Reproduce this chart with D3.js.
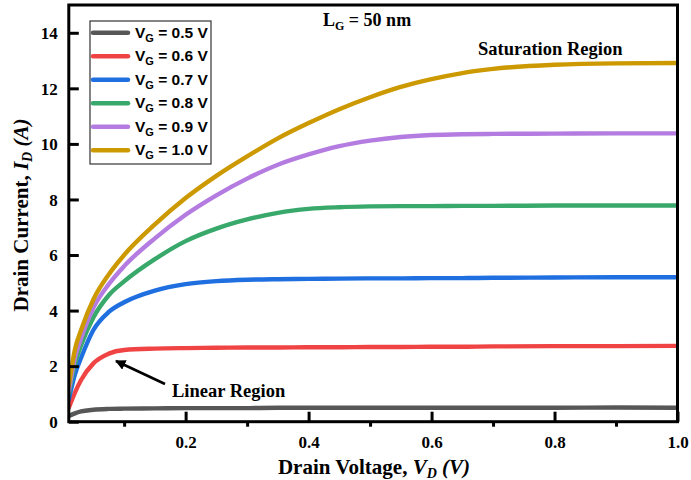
<!DOCTYPE html>
<html>
<head>
<meta charset="utf-8">
<script src="https://cdn.jsdelivr.net/npm/d3@7"></script>
<style>
  html, body { margin: 0; padding: 0; background: #fff; }
  svg { display: block; }
</style>
</head>
<body>
<svg id="chart" width="691" height="480"></svg>
<script>
// Drain voltage sweep (V)
const drainVoltage = [0.01, 0.02, 0.03, 0.05, 0.075, 0.1, 0.15, 0.2, 0.25, 0.3, 0.35, 0.4, 0.45, 0.5, 0.55, 0.6, 0.65, 0.7, 0.8, 0.9, 1.0];

// Drain current (A) for each gate voltage
const idVg05 = [0.2, 0.3, 0.37, 0.43, 0.46, 0.47, 0.48, 0.49, 0.49, 0.49, 0.5, 0.5, 0.5, 0.5, 0.5, 0.5, 0.5, 0.5, 0.5, 0.51, 0.5];
const idVg06 = [0.5, 1.05, 1.5, 2.1, 2.45, 2.58, 2.63, 2.65, 2.66, 2.67, 2.67, 2.68, 2.68, 2.69, 2.69, 2.7, 2.7, 2.71, 2.72, 2.72, 2.73];
const idVg07 = [0.8, 1.7, 2.3, 3.3, 3.95, 4.3, 4.72, 4.95, 5.06, 5.11, 5.13, 5.14, 5.15, 5.16, 5.16, 5.17, 5.17, 5.18, 5.19, 5.2, 5.2];
const idVg08 = [1.0, 2.1, 2.75, 3.75, 4.55, 5.05, 5.85, 6.5, 6.95, 7.28, 7.52, 7.66, 7.72, 7.75, 7.76, 7.76, 7.77, 7.77, 7.78, 7.78, 7.78];
const idVg09 = [1.1, 2.3, 3.0, 4.1, 4.95, 5.6, 6.6, 7.45, 8.15, 8.75, 9.25, 9.62, 9.92, 10.12, 10.25, 10.32, 10.35, 10.36, 10.37, 10.38, 10.38];
const idVg10 = [1.3, 2.6, 3.3, 4.4, 5.3, 6.0, 7.1, 8.05, 8.85, 9.55, 10.2, 10.75, 11.25, 11.68, 12.05, 12.33, 12.55, 12.7, 12.85, 12.9, 12.91];

const seriesLabels = ["0.5 V", "0.6 V", "0.7 V", "0.8 V", "0.9 V", "1.0 V"];
const seriesValues = [idVg05, idVg06, idVg07, idVg08, idVg09, idVg10];
const seriesColors = ["#575757", "#f04444", "#1f6fe0", "#38a96b", "#b47ce0", "#cc9900"];

const xMajorTicks = [0.2, 0.4, 0.6, 0.8, 1.0];
const xMinorTicks = [0.1, 0.3, 0.5, 0.7, 0.9];
const yTicks = [0, 2, 4, 6, 8, 10, 12, 14];

const svg = d3.select("#chart");
const plot = { left: 68.8, right: 677.5, top: 5, bottom: 421.7 };

const x = d3.scaleLinear().domain([0.01, 1.0]).range([plot.left, plot.right]);
const y = d3.scaleLinear().domain([0, 15]).range([plot.bottom, plot.top]);

const serif = "'Liberation Serif', 'Times New Roman', serif";
const sans = "'Liberation Sans', Arial, sans-serif";

// clip the curves to the frame
svg.append("defs").append("clipPath").attr("id", "plotClip")
  .append("rect")
  .attr("x", plot.left).attr("y", plot.top)
  .attr("width", plot.right - plot.left).attr("height", plot.bottom - plot.top);

// curves
const line = d3.line()
  .x((d, i) => x(drainVoltage[i]))
  .y(d => y(d))
  .curve(d3.curveMonotoneX);

const curves = svg.append("g").attr("clip-path", "url(#plotClip)");
seriesValues.forEach((vals, k) => {
  curves.append("path")
    .datum(vals)
    .attr("d", line)
    .attr("fill", "none")
    .attr("stroke", seriesColors[k])
    .attr("stroke-width", 4.4)
    .attr("stroke-linecap", "round")
    .attr("stroke-linejoin", "round");
});

// x axis: major ticks point inward, minor ticks outward
const xAxis = svg.append("g").attr("transform", `translate(0,${plot.bottom})`)
  .call(d3.axisBottom(x).tickValues(xMajorTicks).tickFormat(d3.format(".1f"))
    .tickSizeInner(-10).tickSizeOuter(0).tickPadding(0));
xAxis.select(".domain").remove();
xAxis.selectAll(".tick line").attr("stroke", "#000").attr("stroke-width", 3);
xAxis.selectAll(".tick text")
  .attr("y", 14).attr("dy", "0.71em")
  .attr("font-family", serif).attr("font-weight", "bold").attr("font-size", 17).attr("fill", "#000");

const xMinor = svg.append("g").attr("transform", `translate(0,${plot.bottom})`)
  .call(d3.axisBottom(x).tickValues(xMinorTicks).tickFormat("").tickSizeInner(5).tickSizeOuter(0));
xMinor.select(".domain").remove();
xMinor.selectAll(".tick line").attr("stroke", "#000").attr("stroke-width", 3);

// y axis: ticks inward
const yAxis = svg.append("g").attr("transform", `translate(${plot.left},0)`)
  .call(d3.axisLeft(y).tickValues(yTicks).tickFormat(d3.format("d"))
    .tickSizeInner(-10).tickSizeOuter(0).tickPadding(0));
yAxis.select(".domain").remove();
yAxis.selectAll(".tick line").attr("stroke", "#000").attr("stroke-width", 3);
yAxis.selectAll(".tick text")
  .attr("x", -11).attr("dy", "0.34em")
  .attr("font-family", serif).attr("font-weight", "bold").attr("font-size", 17).attr("fill", "#000");

// frame
svg.append("rect")
  .attr("x", plot.left).attr("y", plot.top)
  .attr("width", plot.right - plot.left).attr("height", plot.bottom - plot.top)
  .attr("fill", "none").attr("stroke", "#000").attr("stroke-width", 3);

// axis titles
const xTitle = svg.append("text")
  .attr("x", 374).attr("y", 474)
  .attr("text-anchor", "middle")
  .attr("font-family", serif).attr("font-weight", "bold").attr("font-size", 21);
xTitle.append("tspan").text("Drain Voltage, ");
xTitle.append("tspan").attr("font-style", "italic").text("V");
xTitle.append("tspan").attr("font-style", "italic").attr("font-size", 14).attr("dy", 4).text("D");
xTitle.append("tspan").attr("dy", -4).text(" ");
xTitle.append("tspan").attr("font-style", "italic").text("(V)");

const yTitle = svg.append("text")
  .attr("transform", `translate(28,${215}) rotate(-90)`)
  .attr("text-anchor", "middle")
  .attr("font-family", serif).attr("font-weight", "bold").attr("font-size", 21);
yTitle.append("tspan").text("Drain Current, ");
yTitle.append("tspan").attr("font-style", "italic").text("I");
yTitle.append("tspan").attr("font-style", "italic").attr("font-size", 14).attr("dy", 4).text("D");
yTitle.append("tspan").attr("dy", -4).text(" ");
yTitle.append("tspan").attr("font-style", "italic").text("(A)");

// legend
const legend = svg.append("g");
legend.append("rect")
  .attr("x", 90).attr("y", 21).attr("width", 121).attr("height", 143)
  .attr("fill", "#fff").attr("stroke", "#333").attr("stroke-width", 1.2);
seriesLabels.forEach((lab, k) => {
  const cy = 32.7 + k * 23.5;
  legend.append("line")
    .attr("x1", 93).attr("x2", 128).attr("y1", cy).attr("y2", cy)
    .attr("stroke", seriesColors[k]).attr("stroke-width", 4.5).attr("stroke-linecap", "round");
  const t = legend.append("text")
    .attr("x", 135).attr("y", cy + 5)
    .attr("font-family", sans).attr("font-weight", "bold").attr("font-size", 15.5).attr("fill", "#000");
  t.append("tspan").text("V");
  t.append("tspan").attr("font-size", 11).attr("dy", 4).text("G");
  t.append("tspan").attr("dy", -4).text(" = " + lab);
});

// annotations
const lg = svg.append("text")
  .attr("x", 323).attr("y", 26)
  .attr("font-family", serif).attr("font-weight", "bold").attr("font-size", 18);
lg.append("tspan").text("L");
lg.append("tspan").attr("font-size", 12).attr("dy", 4).text("G");
lg.append("tspan").attr("dy", -4).text(" = 50 nm");

svg.append("text")
  .attr("x", 478).attr("y", 55)
  .attr("font-family", serif).attr("font-weight", "bold").attr("font-size", 18.5)
  .text("Saturation Region");

svg.append("text")
  .attr("x", 172).attr("y", 397)
  .attr("font-family", serif).attr("font-weight", "bold").attr("font-size", 18.5)
  .text("Linear Region");

// arrow toward the linear part of the 0.6 V curve
svg.append("defs").append("marker")
  .attr("id", "arrowHead").attr("viewBox", "0 0 10 10")
  .attr("refX", 9).attr("refY", 5)
  .attr("markerWidth", 4).attr("markerHeight", 4).attr("markerUnits", "strokeWidth")
  .attr("orient", "auto")
  .append("path").attr("d", "M0,0 L10,5 L0,10 Z").attr("fill", "#000");
svg.append("line")
  .attr("x1", 165).attr("y1", 384).attr("x2", 116).attr("y2", 361)
  .attr("stroke", "#000").attr("stroke-width", 2.6)
  .attr("marker-end", "url(#arrowHead)");
</script>
</body>
</html>
